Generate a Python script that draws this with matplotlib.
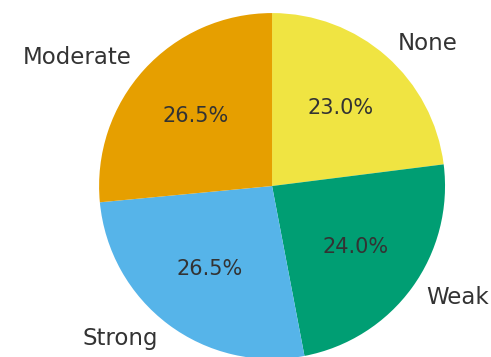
import matplotlib.pyplot as plt

# Response breakdown
labels = ["None", "Weak", "Strong", "Moderate"]
counts = [46, 48, 53, 53]
colors = ["#F0E442", "#009E73", "#56B4E9", "#E69F00"]

fig = plt.figure(figsize=(4.91, 3.57), dpi=100)
ax = fig.add_axes([0.2016, -0.0056, 0.705, 0.969])

wedges, texts, autotexts = ax.pie(
    counts,
    labels=labels,
    colors=colors,
    autopct="%1.1f%%",
    startangle=90,
    counterclock=False,
    textprops={"color": "#333333"},
)
for t in texts:
    t.set_fontsize(16.5)
for t in autotexts:
    t.set_fontsize(15)

ax.set_xlim(-1, 1)
ax.set_ylim(-1, 1)
ax.set_aspect("equal")

fig.savefig("out.png", dpi=100)
